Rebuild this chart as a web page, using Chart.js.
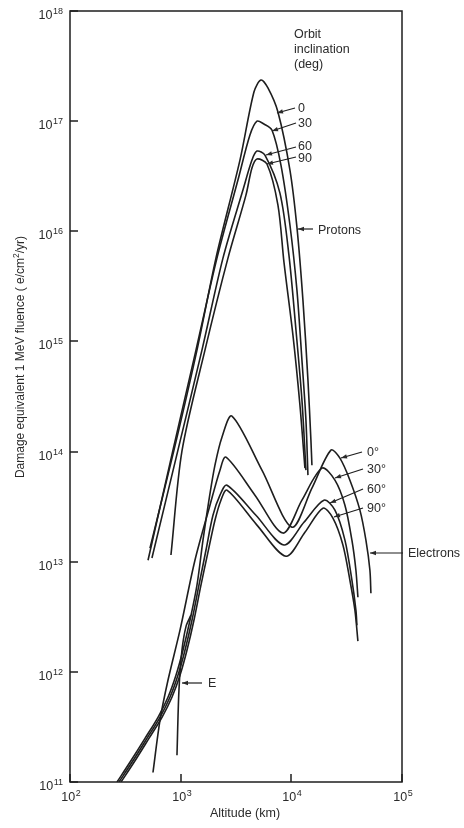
<!DOCTYPE html>
<html>
<head>
<meta charset="utf-8">
<script src="https://cdn.jsdelivr.net/npm/chart.js@4/dist/chart.umd.min.js"></script>
<style>
  html, body { margin: 0; padding: 0; background: #fff; }
  #wrap { width: 464px; height: 828px; }
</style>
</head>
<body>
<div id="wrap"><canvas id="chart" width="464" height="828"></canvas></div>
<script>
// Altitude (km) and damage-equivalent 1 MeV fluence (e/cm^2/yr)

// protons, by orbit inclination
const altProton0 = [528, 870, 1404, 2084, 3434, 4594, 5314, 6146, 7568, 9714, 11235, 12730, 14130, 15030, 15350];
const fluProton0 = [1.33e13, 1.03e14, 8.34e14, 5.71e15, 4.43e16, 1.84e17, 2.36e17, 2.00e17, 1.21e17, 3.60e16, 1.09e16, 2.37e15, 4.45e14, 1.27e14, 7.52e13];

const altProton30 = [507, 852, 1375, 2128, 3293, 4227, 4891, 5655, 6680, 8057, 9714, 11235, 12470, 13550, 14130];
const fluProton30 = [1.03e13, 1.03e14, 8.34e14, 5.71e15, 2.92e16, 7.48e16, 1.00e17, 9.41e16, 8.30e16, 3.99e16, 1.14e16, 2.92e15, 6.76e14, 1.93e14, 6.11e13];

const altProton60 = [550, 945, 1557, 2411, 3654, 4407, 4891, 5775, 7889, 9513, 11010, 12470, 13550];
const fluProton60 = [1.08e13, 1.03e14, 8.34e14, 5.71e15, 2.37e16, 4.43e16, 5.35e16, 4.92e16, 2.22e16, 6.08e15, 1.27e15, 2.93e14, 6.78e13];

const altProton90 = [817, 1027, 1658, 2675, 3889, 4407, 4891, 6021, 7568, 8577, 10340, 11960, 13270];
const fluProton90 = [1.15e13, 1.01e14, 8.34e14, 5.71e15, 2.13e16, 3.75e16, 4.53e16, 4.08e16, 1.73e16, 5.25e15, 1.14e15, 2.64e14, 7.07e13];

// electrons, by orbit inclination
const altElectron0 = [266, 348, 476, 624, 768, 907, 1049, 1214, 1404, 1591, 1801, 2041, 2361, 2906, 5425, 10130, 15350, 22790, 27480, 33830, 41660, 47200, 51290, 52370];
const fluElectron0 = [1.0e11, 1.51e11, 2.49e11, 3.87e11, 5.88e11, 9.31e11, 1.57e12, 2.94e12, 6.12e12, 1.57e13, 3.62e13, 7.52e13, 1.35e14, 2.10e14, 6.78e13, 2.06e13, 4.65e13, 1.03e14, 8.71e13, 5.50e13, 2.94e13, 1.57e13, 8.37e12, 5.18e12];

const altElectron30 = [562, 650, 768, 986, 1346, 1840, 2265, 2566, 4691, 8399, 12470, 18900, 24770, 30500, 35270, 38330, 39960];
const fluElectron30 = [1.22e11, 3.63e11, 8.39e11, 2.39e12, 1.03e13, 3.26e13, 6.78e13, 8.89e13, 4.02e13, 1.82e13, 3.62e13, 7.07e13, 5.50e13, 3.26e13, 1.57e13, 8.37e12, 4.76e12];

const altElectron60 = [277, 363, 496, 650, 800, 945, 1094, 1265, 1463, 1692, 1958, 2265, 2620, 4789, 8577, 13000, 19700, 24770, 30500, 35270, 38330, 39130];
const fluElectron60 = [1.0e11, 1.51e11, 2.49e11, 3.87e11, 5.88e11, 9.31e11, 1.57e12, 2.94e12, 6.12e12, 1.27e13, 2.64e13, 4.02e13, 4.95e13, 2.64e13, 1.42e13, 2.28e13, 3.62e13, 2.94e13, 1.57e13, 6.79e12, 3.63e12, 2.65e12];

const altElectron90 = [289, 379, 517, 678, 834, 986, 1140, 1318, 1525, 1765, 2041, 2312, 2620, 4891, 8940, 13270, 19300, 23760, 29250, 33830, 37540, 39960];
const fluElectron90 = [1.0e11, 1.51e11, 2.49e11, 3.87e11, 5.88e11, 9.31e11, 1.57e12, 2.94e12, 6.12e12, 1.22e13, 2.38e13, 3.62e13, 4.46e13, 2.15e13, 1.12e13, 1.85e13, 3.06e13, 2.49e13, 1.42e13, 6.79e12, 3.63e12, 1.90e12];

// the steep branch marked "E"
const altE = [926, 965, 1027, 1120, 1239];
const fluE = [1.75e11, 6.81e11, 1.57e12, 2.60e12, 3.27e12];

// decade tick exponents
const xTickExps = [2, 3, 4, 5];
const yTickExps = [11, 12, 13, 14, 15, 16, 17, 18];

const FONT = '"Liberation Sans", Arial, Helvetica, sans-serif';
const INK = '#1e1e1e';

function toPoints(xs, ys) {
    return xs.map((x, i) => ({ x: x, y: ys[i] }));
}

function curve(label, xs, ys) {
    return {
        label: label,
        data: toPoints(xs, ys),
        borderColor: INK,
        borderWidth: 1.6,
        pointRadius: 0,
        fill: false,
        tension: 0.3
    };
}

// callouts: text, text anchor and leader line (label side -> tip on the curve)
const callouts = [
    { text: 'Orbit', x: 294, y: 38 },
    { text: 'inclination', x: 294, y: 53 },
    { text: '(deg)', x: 294, y: 68 },
    { text: '0', x: 298, y: 112, from: [295, 108], to: [277, 113] },
    { text: '30', x: 298, y: 127, from: [296, 123], to: [272, 131] },
    { text: '60', x: 298, y: 150, from: [296, 147], to: [266, 155] },
    { text: '90', x: 298, y: 162, from: [296, 157], to: [267, 164] },
    { text: 'Protons', x: 318, y: 234, from: [313, 229], to: [298, 229] },
    { text: '0°', x: 367, y: 456, from: [362, 452], to: [341, 458] },
    { text: '30°', x: 367, y: 473, from: [363, 469], to: [335, 478] },
    { text: '60°', x: 367, y: 493, from: [363, 489], to: [330, 503] },
    { text: '90°', x: 367, y: 512, from: [363, 508], to: [334, 517] },
    { text: 'Electrons', x: 408, y: 557, from: [403, 553], to: [370, 553] },
    { text: 'E', x: 208, y: 687, from: [202, 683], to: [182, 683] }
];

function arrow(ctx, from, to) {
    ctx.beginPath();
    ctx.moveTo(from[0], from[1]);
    ctx.lineTo(to[0], to[1]);
    ctx.stroke();
    const a = Math.atan2(to[1] - from[1], to[0] - from[0]);
    const len = 6, half = 2.2;
    ctx.beginPath();
    ctx.moveTo(to[0], to[1]);
    ctx.lineTo(to[0] - len * Math.cos(a) + half * Math.sin(a), to[1] - len * Math.sin(a) - half * Math.cos(a));
    ctx.lineTo(to[0] - len * Math.cos(a) - half * Math.sin(a), to[1] - len * Math.sin(a) + half * Math.cos(a));
    ctx.closePath();
    ctx.fill();
}

// "10" with a raised exponent
function power(ctx, exp, x, baseY, align) {
    const base = '12.5px ' + FONT, sup = '9px ' + FONT;
    ctx.font = base;
    const bw = ctx.measureText('10').width;
    ctx.font = sup;
    const sw = ctx.measureText(String(exp)).width;
    const total = bw + 0.5 + sw;
    const x0 = align === 'right' ? x - total : x - total / 2;
    ctx.textAlign = 'left';
    ctx.textBaseline = 'alphabetic';
    ctx.font = base;
    ctx.fillText('10', x0, baseY);
    ctx.font = sup;
    ctx.fillText(String(exp), x0 + bw + 0.5, baseY - 5);
}

const framePlugin = {
    id: 'frame',
    afterDraw(chart) {
        const ctx = chart.ctx;
        const { left, right, top, bottom } = chart.chartArea;
        const xs = chart.scales.x, ys = chart.scales.y;
        ctx.save();
        ctx.strokeStyle = INK;
        ctx.fillStyle = '#2a2a2a';
        ctx.lineWidth = 1.5;
        ctx.strokeRect(left, top, right - left, bottom - top);

        // inward ticks + labels
        yTickExps.forEach(e => {
            const py = Math.round(ys.getPixelForValue(Math.pow(10, e)));
            ctx.beginPath();
            ctx.moveTo(left, py);
            ctx.lineTo(left + 8, py);
            ctx.stroke();
            power(ctx, e, left - 7, py + 8, 'right');
        });
        xTickExps.forEach(e => {
            const px = Math.round(xs.getPixelForValue(Math.pow(10, e)));
            ctx.beginPath();
            ctx.moveTo(px, bottom);
            ctx.lineTo(px, bottom - 8);
            ctx.stroke();
            power(ctx, e, px + 1, bottom + 19, 'center');
        });

        // axis titles
        ctx.font = '12.5px ' + FONT;
        ctx.textAlign = 'center';
        ctx.textBaseline = 'alphabetic';
        ctx.fillText('Altitude (km)', 245, 817);

        ctx.save();
        ctx.translate(24, 357);
        ctx.rotate(-Math.PI / 2);
        const p1 = 'Damage equivalent 1 MeV fluence ( e/cm', p2 = '2', p3 = '/yr)';
        ctx.font = '12px ' + FONT;
        const w1 = ctx.measureText(p1).width, w3 = ctx.measureText(p3).width;
        ctx.font = '8.5px ' + FONT;
        const w2 = ctx.measureText(p2).width;
        let tx = -(w1 + w2 + w3) / 2;
        ctx.textAlign = 'left';
        ctx.font = '12px ' + FONT;
        ctx.fillText(p1, tx, 0);
        ctx.font = '8.5px ' + FONT;
        ctx.fillText(p2, tx + w1, -5);
        ctx.font = '12px ' + FONT;
        ctx.fillText(p3, tx + w1 + w2, 0);
        ctx.restore();

        // callouts
        ctx.lineWidth = 1.2;
        ctx.font = '12.5px ' + FONT;
        ctx.textAlign = 'left';
        callouts.forEach(c => {
            ctx.fillText(c.text, c.x, c.y);
            if (c.from) arrow(ctx, c.from, c.to);
        });
        ctx.restore();
    }
};

new Chart(document.getElementById('chart'), {
    type: 'line',
    data: {
        datasets: [
            curve('Protons 0', altProton0, fluProton0),
            curve('Protons 30', altProton30, fluProton30),
            curve('Protons 60', altProton60, fluProton60),
            curve('Protons 90', altProton90, fluProton90),
            curve('Electrons 0', altElectron0, fluElectron0),
            curve('Electrons 30', altElectron30, fluElectron30),
            curve('Electrons 60', altElectron60, fluElectron60),
            curve('Electrons 90', altElectron90, fluElectron90),
            curve('E', altE, fluE)
        ]
    },
    options: {
        responsive: false,
        animation: false,
        layout: { padding: { left: 70, right: 62, top: 11, bottom: 46 } },
        scales: {
            x: { type: 'logarithmic', min: 100, max: 100000, display: false },
            y: { type: 'logarithmic', min: 1e11, max: 1e18, display: false }
        },
        plugins: {
            legend: { display: false },
            tooltip: { enabled: false }
        }
    },
    plugins: [framePlugin]
});
</script>
</body>
</html>
